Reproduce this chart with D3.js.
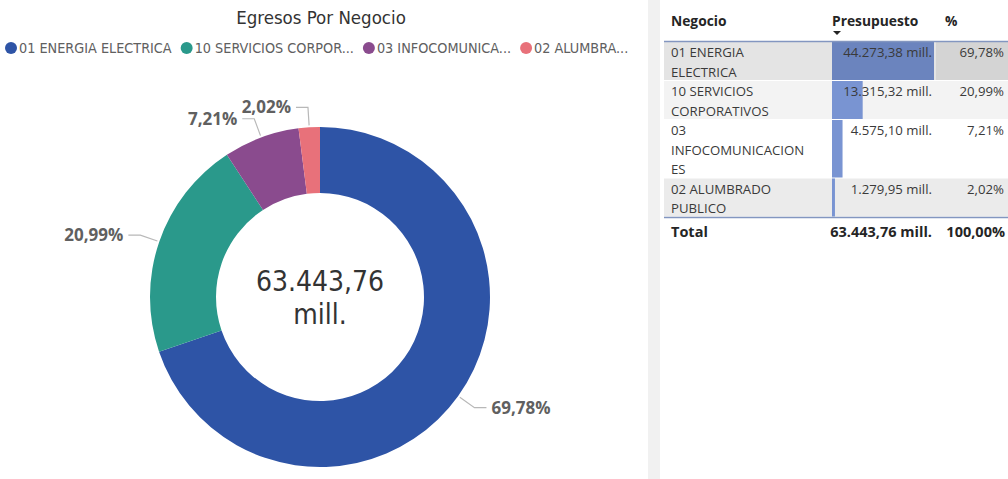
<!DOCTYPE html>
<html>
<head>
<meta charset="utf-8">
<script src="https://cdn.jsdelivr.net/npm/d3@7"></script>
<style>
  html, body { margin: 0; padding: 0; background: #ffffff; }
  svg { display: block; }
</style>
</head>
<body>
<svg id="chart" width="1008" height="479"></svg>
<script>
// ---- data ----
const categories = ["01 ENERGIA ELECTRICA", "10 SERVICIOS CORPORATIVOS", "03 INFOCOMUNICACIONES", "02 ALUMBRADO PUBLICO"];
const legendLabels = ["01 ENERGIA ELECTRICA", "10 SERVICIOS CORPOR...", "03 INFOCOMUNICA...", "02 ALUMBRA..."];
const tableNameLines = [["01 ENERGIA", "ELECTRICA"], ["10 SERVICIOS", "CORPORATIVOS"], ["03", "INFOCOMUNICACION", "ES"], ["02 ALUMBRADO", "PUBLICO"]];
const budget = [44273.38, 13315.32, 4575.10, 1279.95];   // Presupuesto, millones
const totalBudget = 63443.76;
const colors = ["#2e54a6", "#2a998b", "#8a4b8e", "#e8717a"];
const tableHeaders = ["Negocio", "Presupuesto", "%"];

// ---- formatting (es) ----
const loc = d3.formatLocale({ decimal: ",", thousands: ".", grouping: [3], currency: ["$", ""] });
const fmtNum = loc.format(",.2f");
const fmtPct = loc.format(".2%");

const svg = d3.select("#chart");
const condensed = "'DejaVu Sans Condensed', 'Open Sans', sans-serif";
const uiFont = "'Open Sans', 'Noto Sans', sans-serif";

// ---- donut panel ----
const cx = 320, cy = 297, rOuter = 170, rInner = 104;

svg.append("text")
  .attr("x", cx + 1).attr("y", 24)
  .attr("text-anchor", "middle")
  .attr("font-family", condensed)
  .attr("font-size", 18.5)
  .attr("fill", "#333")
  .text("Egresos Por Negocio");

// legend laid out left to right
const legend = svg.append("g").attr("font-family", condensed).attr("font-size", 14.3).attr("fill", "#606060");
let lx = 11;
legendLabels.forEach((lab, i) => {
  legend.append("circle").attr("cx", lx).attr("cy", 48).attr("r", 6).attr("fill", colors[i]);
  const t = legend.append("text").attr("x", lx + 8).attr("y", 53).text(lab);
  lx += 8 + t.node().getComputedTextLength() + 15;
});

const pie = d3.pie().sort(null).value(d => d);
const arcs = pie(budget);
const arc = d3.arc().innerRadius(rInner).outerRadius(rOuter);

const donut = svg.append("g").attr("transform", `translate(${cx},${cy})`);
donut.selectAll("path.slice")
  .data(arcs)
  .join("path")
  .attr("class", "slice")
  .attr("d", arc)
  .attr("fill", (d, i) => colors[i]);

// leader lines + percentage labels
const rStart = rOuter + 2, rElbow = rOuter + 20, hLen = 12;
arcs.forEach((a, i) => {
  const mid = (a.startAngle + a.endAngle) / 2;
  const p0 = [Math.sin(mid) * rStart, -Math.cos(mid) * rStart];
  const p1 = [Math.sin(mid) * rElbow, -Math.cos(mid) * rElbow];
  const dir = Math.sin(mid) >= 0 ? 1 : -1;
  const p2 = [p1[0] + dir * hLen, p1[1]];
  donut.append("polyline")
    .attr("points", [p0, p1, p2].map(p => p.join(",")).join(" "))
    .attr("fill", "none")
    .attr("stroke", "#b8b8b8")
    .attr("stroke-width", 1.2);
  donut.append("text")
    .attr("x", p2[0] + dir * 5)
    .attr("y", p2[1] + 6)
    .attr("text-anchor", dir > 0 ? "start" : "end")
    .attr("font-family", uiFont)
    .attr("font-weight", "bold")
    .attr("font-size", 17)
    .attr("fill", "#606060")
    .text(fmtPct(budget[i] / totalBudget));
});

// centre total
const centre = fmtNum(totalBudget);
donut.append("text").attr("text-anchor", "middle").attr("y", -6)
  .attr("font-family", condensed).attr("font-size", 28).attr("fill", "#333")
  .text(centre);
donut.append("text").attr("text-anchor", "middle").attr("y", 27)
  .attr("font-family", condensed).attr("font-size", 28).attr("fill", "#333")
  .text("mill.");

// ---- separator strip between visuals ----
svg.append("rect").attr("x", 648).attr("y", 0).attr("width", 12).attr("height", 479).attr("fill", "#f1f1f1");

// ---- table ----
const tx0 = 664, tx1 = 1008;
const colName = 671, barX = 832, valRight = 932, pctRight = 1004;
const lineH = 19.5;
const table = svg.append("g").attr("font-family", uiFont).attr("font-size", 13.2);

// header
const hdr = table.append("g").attr("font-weight", "bold").attr("font-size", 13.8).attr("fill", "#252525");
hdr.append("text").attr("x", colName).attr("y", 26).text(tableHeaders[0]);
hdr.append("text").attr("x", barX).attr("y", 26).text(tableHeaders[1]);
hdr.append("text").attr("x", 945).attr("y", 26).text(tableHeaders[2]);
table.append("path").attr("d", `M${barX + 1},31 h8 l-4,4 z`).attr("fill", "#252525");

const rowBg = ["#e4e4e4", "#f3f3f3", "#ffffff", "#ebebeb"];
const barScale = d3.scaleLinear().domain([0, d3.max(budget)]).range([0, 102]);

let ty = 42;
tableNameLines.forEach((lines, i) => {
  const h = lines.length * lineH;
  table.append("rect").attr("x", tx0).attr("y", ty).attr("width", tx1 - tx0).attr("height", h - 1).attr("fill", rowBg[i]);
  if (i === 0) {
    table.append("rect").attr("x", 936).attr("y", ty).attr("width", tx1 - 936).attr("height", h - 1).attr("fill", "#d4d4d4");
  }
  table.append("rect").attr("x", barX).attr("y", ty).attr("width", barScale(budget[i])).attr("height", h - 1)
    .attr("fill", i === 0 ? "#6b84be" : "#7994d2");
  lines.forEach((ln, j) => {
    table.append("text").attr("x", colName).attr("y", ty + 15 + j * lineH).attr("fill", "#3a3a3a").text(ln);
  });
  table.append("text").attr("x", valRight).attr("y", ty + 15).attr("text-anchor", "end").attr("fill", "#3a3a3a")
    .text(fmtNum(budget[i]) + " mill.");
  table.append("text").attr("x", pctRight).attr("y", ty + 15).attr("text-anchor", "end").attr("fill", "#3a3a3a")
    .text(fmtPct(budget[i] / totalBudget));
  ty += h;
});

table.append("line").attr("x1", tx0).attr("x2", tx1).attr("y1", 41.5).attr("y2", 41.5).attr("stroke", "#8396c0").attr("stroke-width", 1.5);
table.append("line").attr("x1", tx0).attr("x2", tx1).attr("y1", ty).attr("y2", ty).attr("stroke", "#8396c0").attr("stroke-width", 1.5);

// total row
const tot = table.append("g").attr("font-weight", "bold").attr("font-size", 14.5).attr("fill", "#252525");
tot.append("text").attr("x", colName).attr("y", ty + 19).text("Total");
tot.append("text").attr("x", valRight).attr("y", ty + 19).attr("text-anchor", "end")
  .text(fmtNum(totalBudget) + " mill.");
tot.append("text").attr("x", pctRight + 1).attr("y", ty + 19).attr("text-anchor", "end")
  .text(fmtPct(d3.sum(budget) / totalBudget));
</script>
</body>
</html>
